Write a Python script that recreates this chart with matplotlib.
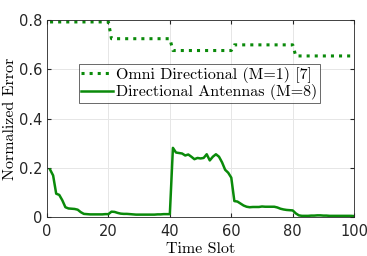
import numpy as np
import matplotlib.pyplot as plt

plt.rcParams['font.size'] = 9
plt.rcParams['mathtext.fontset'] = 'cm'

# Time slots
t = np.arange(1, 101)

# Omni directional (M=1) [7]: step levels per 20 slots
omni_levels = [0.792, 0.724, 0.676, 0.699, 0.654]

# Directional antennas (M=8)
directional = [
    0.193, 0.169, 0.095, 0.090, 0.068, 0.040, 0.035, 0.034, 0.033, 0.030,
    0.020, 0.013, 0.012, 0.011, 0.011, 0.011, 0.011, 0.011, 0.012, 0.012,
    0.022, 0.021, 0.017, 0.014, 0.013, 0.013, 0.012, 0.011, 0.010, 0.010,
    0.010, 0.010, 0.010, 0.010, 0.010, 0.011, 0.011, 0.012, 0.012, 0.012,
    0.281, 0.262, 0.260, 0.258, 0.250, 0.254, 0.245, 0.235, 0.240, 0.238,
    0.240, 0.255, 0.230, 0.245, 0.255, 0.245, 0.222, 0.192, 0.180, 0.160,
    0.065, 0.063, 0.055, 0.047, 0.042, 0.040, 0.041, 0.041, 0.041, 0.043,
    0.042, 0.042, 0.042, 0.042, 0.039, 0.034, 0.031, 0.029, 0.028, 0.027,
    0.015, 0.007, 0.005, 0.005, 0.005, 0.006, 0.006, 0.007, 0.007, 0.006,
    0.006, 0.005, 0.005, 0.005, 0.005, 0.005, 0.005, 0.005, 0.005, 0.004,
]

omni = np.repeat(omni_levels, 20)

green = '#0a8a0a'

fig = plt.figure(figsize=(3.67, 2.56), dpi=100)
ax = fig.add_axes([0.128, 0.152, 0.837, 0.77])

ax.plot(t, omni, linestyle=':', color=green, linewidth=2.2,
        label='Omni Directional (M=1) [7]')
ax.plot(t, directional, color=green, linewidth=1.8,
        label='Directional Antennas (M=8)')

ax.set_xlim(0, 100)
ax.set_ylim(0, 0.8)
ax.set_xticks([0, 20, 40, 60, 80, 100])
ax.set_yticks([0, 0.2, 0.4, 0.6, 0.8])
ax.set_yticklabels(['0', '0.2', '0.4', '0.6', '0.8'])
ax.tick_params(direction='in', length=3, labelsize=10.5, colors='#262626')
ax.tick_params(axis='x', pad=5)
ax.tick_params(top=True, right=True)
for s in ax.spines.values():
    s.set_color('#262626')
    s.set_linewidth(0.6)
ax.grid(True, color='#e6e6e6', linewidth=0.7)

ax.set_xlabel('Time Slot', family='cmr10', fontsize=11.5, labelpad=2)
ax.set_ylabel('Normalized Error', family='cmr10', fontsize=11.5, labelpad=1)

leg = ax.legend(loc='upper left', bbox_to_anchor=(0.104, 0.775),
                prop={'family': 'cmr10', 'size': 11.5}, frameon=True,
                fancybox=False, edgecolor='#262626', borderpad=0.15,
                handlelength=2.0, handletextpad=0.2, labelspacing=0.1,
                borderaxespad=0)
leg.get_frame().set_linewidth(0.6)

plt.savefig('out.png', dpi=100)
